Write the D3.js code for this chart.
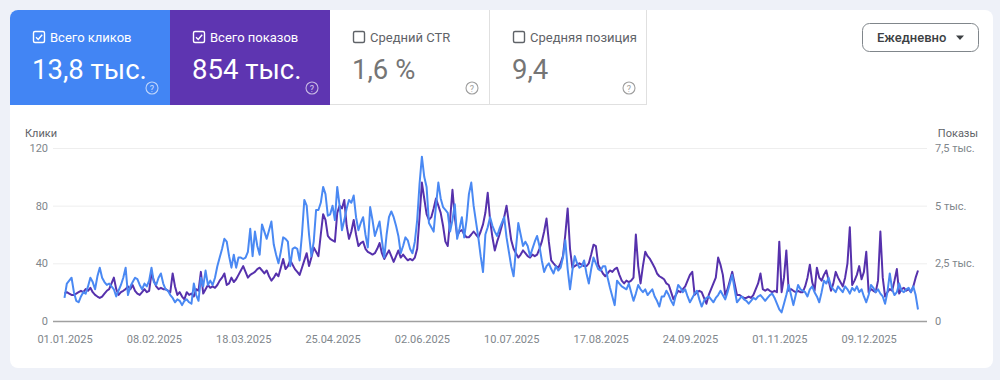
<!DOCTYPE html>
<html>
<head>
<meta charset="utf-8">
<script src="https://cdn.jsdelivr.net/npm/d3@7"></script>
<style>
  body { margin: 0; background: #eef1f8; font-family: Roboto, "Noto Sans", sans-serif; }
</style>
</head>
<body>
<div id="chart-area"></div>
<script>
// first day of the daily series
const START_DATE = "2025-01-01"

// daily clicks, one row per week
const clicks = [
  16, 26, 28, 30, 20, 14, 13,
  17, 20, 19, 24, 30, 27, 22,
  31, 37, 30, 27, 25, 26, 24,
  22, 17, 21, 25, 30, 37, 18,
  24, 27, 30, 29, 25, 22, 26,
  24, 28, 37, 27, 25, 30, 33,
  26, 22, 21, 18, 16, 13, 15,
  14, 11, 14, 15, 13, 12, 26,
  18, 14, 30, 24, 35, 25, 28,
  25, 30, 38, 44, 50, 57, 55,
  45, 37, 46, 37, 44, 44, 43,
  44, 48, 64, 45, 62, 52, 46,
  67, 62, 57, 63, 69, 53, 46,
  40, 48, 58, 57, 55, 38, 50,
  51, 50, 42, 60, 84, 80, 60,
  45, 55, 77, 77, 82, 93, 88,
  73, 74, 80, 70, 93, 80, 63,
  70, 78, 84, 82, 87, 72, 63,
  68, 72, 60, 51, 79, 70, 59,
  64, 69, 56, 44, 60, 72, 76,
  72, 66, 59, 47, 52, 58, 56,
  50, 47, 55, 70, 95, 114, 100,
  93, 68, 65, 62, 80, 96, 85,
  79, 77, 75, 62, 70, 81, 57,
  64, 72, 58, 70, 88, 96, 80,
  69, 58, 45, 34, 60, 65, 72,
  66, 62, 59, 64, 68, 72, 58,
  48, 38, 31, 50, 68, 60, 52,
  55, 52, 45, 50, 55, 59, 52,
  42, 34, 38, 40, 36, 33, 38,
  35, 37, 44, 56, 36, 22, 35,
  45, 40, 37, 38, 42, 33, 26,
  36, 44, 40, 36, 35, 38, 38,
  30, 23, 17, 11, 28, 26, 24,
  23, 22, 26, 20, 14, 19, 25,
  22, 20, 22, 18, 20, 22, 17,
  14, 10, 17, 17, 21, 18, 14,
  11, 18, 25, 23, 20, 22, 17,
  13, 16, 19, 21, 15, 10, 14,
  16, 17, 15, 13, 16, 18, 21,
  18, 15, 20, 26, 32, 22, 13,
  15, 17, 15, 14, 12, 14, 16,
  15, 17, 18, 16, 14, 16, 18,
  19, 16, 12, 8, 6, 12, 18,
  25, 18, 11, 18, 25, 22, 21,
  20, 17, 22, 24, 20, 17, 13,
  20, 28, 26, 30, 24, 22, 20,
  24, 22, 20, 24, 22, 19, 23,
  21, 24, 20, 22, 17, 13, 18,
  25, 23, 20, 22, 19, 17, 12,
  20, 33, 22, 18, 20, 26, 21,
  20, 22, 23, 20, 24, 18, 8
]

// daily impressions, one row per week
const impressions = [
  1190, 1250, 1190, 1130, 1130, 1190, 1250,
  1310, 1250, 1380, 1310, 1440, 1250, 1130,
  1060, 1000, 1060, 1190, 1310, 1380, 1630,
  1880, 1380, 1130, 1250, 1310, 1380, 1500,
  1380, 1560, 1310, 1190, 1130, 1250, 1380,
  1250, 1310, 2060, 1750, 1500, 1380, 1440,
  1380, 1380, 1310, 1250, 2060, 1500, 1130,
  1250, 1060, 940, 1250, 1130, 1190, 1060,
  1380, 1310, 2130, 1190, 1380, 1560, 1440,
  1500, 1440, 1560, 1750, 1880, 2060, 1560,
  1630, 1880, 1690, 1810, 2000, 2190, 2380,
  2130, 1880, 2000, 2060, 2130, 2250, 2310,
  2190, 2060, 2190, 1940, 1750, 1880, 2060,
  1940, 2310, 2690, 2250, 2380, 2630, 2440,
  2250, 2130, 2000, 2310, 2630, 2940, 2380,
  2750, 3190, 3000, 2810, 3750, 4630, 4380,
  3690, 3560, 3500, 3440, 4690, 5000, 4880,
  5250, 4130, 3560, 3880, 4380, 3750, 3250,
  3380, 3440, 3130, 3000, 2940, 2880, 2940,
  3130, 3380, 2940, 2690, 2880, 3060, 2810,
  2560, 2810, 3060, 2750, 2880, 2750, 2630,
  2690, 2630, 2750, 3130, 4500, 6000, 5310,
  4630, 4380, 4500, 4880, 5310, 5000, 4690,
  4130, 3440, 3250, 4380, 5690, 4500, 3690,
  3880, 3940, 3750, 3630, 3630, 3750, 3880,
  3750, 3630, 3880, 4190, 4690, 5560, 4380,
  3630, 3060, 3440, 3750, 4130, 4500, 5000,
  4250, 3500, 3130, 2940, 2750, 2880, 3060,
  2940, 2810, 2750, 2880, 2810, 2880, 3130,
  3440, 3880, 4440, 3440, 2630, 2500, 2380,
  2310, 2500, 2810, 3750, 4880, 3130, 2310,
  2380, 2440, 2500, 2440, 2380, 2380, 2500,
  2880, 3310, 3250, 2440, 2250, 2060, 1940,
  2060, 2190, 2130, 2250, 2310, 2000, 1750,
  1630, 1750, 1690, 1750, 1880, 3750, 2380,
  1630, 2380, 3000, 2810, 2690, 2500, 2310,
  2060, 1940, 1880, 1810, 1630, 1560, 1250,
  940, 1130, 1310, 1250, 1380, 1500, 1750,
  2000, 2130, 1130, 1250, 1310, 1250, 1000,
  750, 1130, 1380, 1630, 1880, 2750, 2440,
  2000, 1130, 1380, 1750, 2130, 1630, 1130,
  1130, 1060, 1000, 1000, 1060, 1000, 1130,
  1380, 1630, 2060, 1380, 1310, 1380, 1310,
  1250, 1310, 1250, 3440, 1250, 1880, 3060,
  1310, 1380, 1310, 1250, 1310, 1250, 1250,
  1500, 1880, 2440, 1690, 1310, 2310, 1880,
  1750, 2000, 2190, 1750, 1310, 1630, 2130,
  1880, 1690, 1500, 1880, 2500, 4060, 1560,
  1750, 2000, 2380, 1810, 2130, 3000, 1250,
  1380, 1310, 1250, 1750, 3880, 1880, 1060,
  1250, 1380, 1310, 1750, 2250, 1190, 1380,
  1440, 1310, 1380, 1250, 1500, 1880, 2190
]

const xTickLabels = ["01.01.2025", "08.02.2025", "18.03.2025", "25.04.2025", "02.06.2025",
  "10.07.2025", "17.08.2025", "24.09.2025", "01.11.2025", "09.12.2025"]
const clickTicks = [0, 40, 80, 120]
const impressionTicks = [0, 2500, 5000, 7500]
const impressionTickLabels = ["0", "2,5 тыс.", "5 тыс.", "7,5 тыс."]

const metricNames = ["Всего кликов", "Всего показов", "Средний CTR", "Средняя позиция"]
const metricValues = ["13,8 тыс.", "854 тыс.", "1,6 %", "9,4"]
const metricChecked = [true, true, false, false]

const WIDTH = 1000
const HEIGHT = 380
const BLUE = "#4285f4"
const PURPLE = "#5e35b1"

const svg = d3.select("#chart-area").append("svg")
  .attr("width", WIDTH)
  .attr("height", HEIGHT)
  .style("display", "block")

// card
svg.append("clipPath").attr("id", "card-clip")
  .append("rect")
    .attr("x", 10).attr("y", 10)
    .attr("width", 983).attr("height", 358)
    .attr("rx", 8)

const card = svg.append("g").attr("clip-path", "url(#card-clip)")
card.append("rect")
  .attr("x", 10).attr("y", 10)
  .attr("width", 983).attr("height", 358)
  .attr("fill", "#fff")

// metric tiles
const TILE_X = [10, 170, 330, 490]
const TILE_W = [160, 160, 160, 157]
const tileFill = [BLUE, PURPLE, "#fff", "#fff"]

const tiles = card.selectAll("g.tile")
  .data(metricNames)
  .enter().append("g")
    .attr("class", "tile")
    .attr("transform", function(d, i) { return "translate(" + TILE_X[i] + ", 10)" })

tiles.append("rect")
  .attr("width", function(d, i) { return TILE_W[i] })
  .attr("height", 95)
  .attr("fill", function(d, i) { return tileFill[i] })

tiles.each(function(d, i) {
  const t = d3.select(this)
  const on = metricChecked[i]
  const fg = on ? "#fff" : "#5f6368"
  if (!on) {
    t.append("line")
      .attr("x1", TILE_W[i] - 0.5).attr("x2", TILE_W[i] - 0.5)
      .attr("y1", 0).attr("y2", 95)
      .attr("stroke", "#e0e0e0")
    t.append("line")
      .attr("x1", 0).attr("x2", TILE_W[i])
      .attr("y1", 94.5).attr("y2", 94.5)
      .attr("stroke", "#e0e0e0")
  }
  // checkbox
  t.append("rect")
    .attr("x", 23.5).attr("y", 21.5)
    .attr("width", 11).attr("height", 11)
    .attr("rx", 1.5)
    .attr("fill", "none")
    .attr("stroke", fg)
    .attr("stroke-width", 1.4)
  if (on) {
    t.append("path")
      .attr("d", "M26 27.3 L28.2 29.5 L32.2 24.8")
      .attr("fill", "none")
      .attr("stroke", fg)
      .attr("stroke-width", 1.4)
  }
  t.append("text")
    .attr("x", 40).attr("y", 31.5)
    .attr("font-size", "13px")
    .attr("fill", fg)
    .text(d)
  t.append("text")
    .attr("x", 22).attr("y", 69)
    .attr("font-size", "27.5px")
    .attr("fill", on ? "#fff" : "#757575")
    .text(metricValues[i])
  // help icon
  const hx = TILE_W[i] - 18
  t.append("circle")
    .attr("cx", hx).attr("cy", 78)
    .attr("r", 6)
    .attr("fill", "none")
    .attr("stroke", on ? "rgba(255,255,255,0.65)" : "#9e9e9e")
    .attr("stroke-width", 1.1)
  t.append("text")
    .attr("x", hx).attr("y", 81.5)
    .attr("text-anchor", "middle")
    .attr("font-size", "9px")
    .attr("fill", on ? "rgba(255,255,255,0.75)" : "#9e9e9e")
    .text("?")
})

// period dropdown
card.append("rect")
  .attr("x", 862.5).attr("y", 23.5)
  .attr("width", 116).attr("height", 28)
  .attr("rx", 7)
  .attr("fill", "#fff")
  .attr("stroke", "#80868b")
card.append("text")
  .attr("x", 877).attr("y", 42)
  .attr("font-size", "13px")
  .attr("font-weight", 500)
  .attr("fill", "#3c4043")
  .text("Ежедневно")
card.append("path")
  .attr("d", "M956 35.5 L964 35.5 L960 40 Z")
  .attr("fill", "#3c4043")

// chart
const parseDate = d3.timeParse("%Y-%m-%d")
const parseTick = d3.timeParse("%d.%m.%Y")
const day0 = parseDate(START_DATE)
const data = clicks.map(function(c, i) {
  return { date: d3.timeDay.offset(day0, i), clicks: c, impressions: impressions[i] }
})

const X0 = 53, X1 = 927
const x = d3.scaleTime()
  .domain([day0, data[data.length - 1].date])
  .range([64.5, 918])
const yClicks = d3.scaleLinear().domain([0, 120]).range([321, 148])
const yImpr = d3.scaleLinear().domain([0, 7500]).range([321, 148])

// grid
const grid = card.append("g")
  .attr("transform", "translate(" + X0 + ", 0)")
  .call(d3.axisRight(yClicks).tickValues(clickTicks).tickSize(X1 - X0).tickFormat(""))
grid.select(".domain").remove()
grid.selectAll(".tick line")
  .attr("stroke", function(d) { return d === 0 ? "#a0a0a0" : "#eeeeee" })
  .attr("stroke-width", function(d) { return d === 0 ? 1.3 : 1 })

// left axis
const leftAxis = card.append("g")
  .attr("transform", "translate(48, 0)")
  .call(d3.axisLeft(yClicks).tickValues(clickTicks).tickSize(0).tickPadding(0))
leftAxis.select(".domain").remove()

// right axis
const rightAxis = card.append("g")
  .attr("transform", "translate(935, 0)")
  .call(d3.axisRight(yImpr).tickValues(impressionTicks).tickSize(0).tickPadding(0)
    .tickFormat(function(d, i) { return impressionTickLabels[i] }))
rightAxis.select(".domain").remove()

// bottom axis
const bottomAxis = card.append("g")
  .attr("transform", "translate(0, 321)")
  .call(d3.axisBottom(x)
    .tickValues(xTickLabels.map(function(s) { return parseTick(s) }))
    .tickSize(0).tickPadding(14)
    .tickFormat(function(d, i) { return xTickLabels[i] }))
bottomAxis.select(".domain").remove()

card.selectAll(".tick text")
  .attr("font-family", "Roboto, sans-serif")
  .attr("font-size", "11px")
  .attr("fill", "#80868b")

card.append("text")
  .attr("x", 25).attr("y", 137)
  .attr("font-size", "11px")
  .attr("fill", "#5f6368")
  .text("Клики")
card.append("text")
  .attr("x", 978).attr("y", 137)
  .attr("text-anchor", "end")
  .attr("font-size", "11px")
  .attr("fill", "#5f6368")
  .text("Показы")

// lines
const imprLine = d3.line()
  .x(function(d) { return x(d.date) })
  .y(function(d) { return yImpr(d.impressions) })
const clickLine = d3.line()
  .x(function(d) { return x(d.date) })
  .y(function(d) { return yClicks(d.clicks) })

card.append("path")
  .datum(data)
  .attr("d", imprLine)
  .attr("fill", "none")
  .attr("stroke", "#5631ac")
  .attr("stroke-width", 2)
  .attr("stroke-linejoin", "round")

card.append("path")
  .datum(data)
  .attr("d", clickLine)
  .attr("fill", "none")
  .attr("stroke", "#4a89f3")
  .attr("stroke-width", 2)
  .attr("stroke-linejoin", "round")
</script>
</body>
</html>
